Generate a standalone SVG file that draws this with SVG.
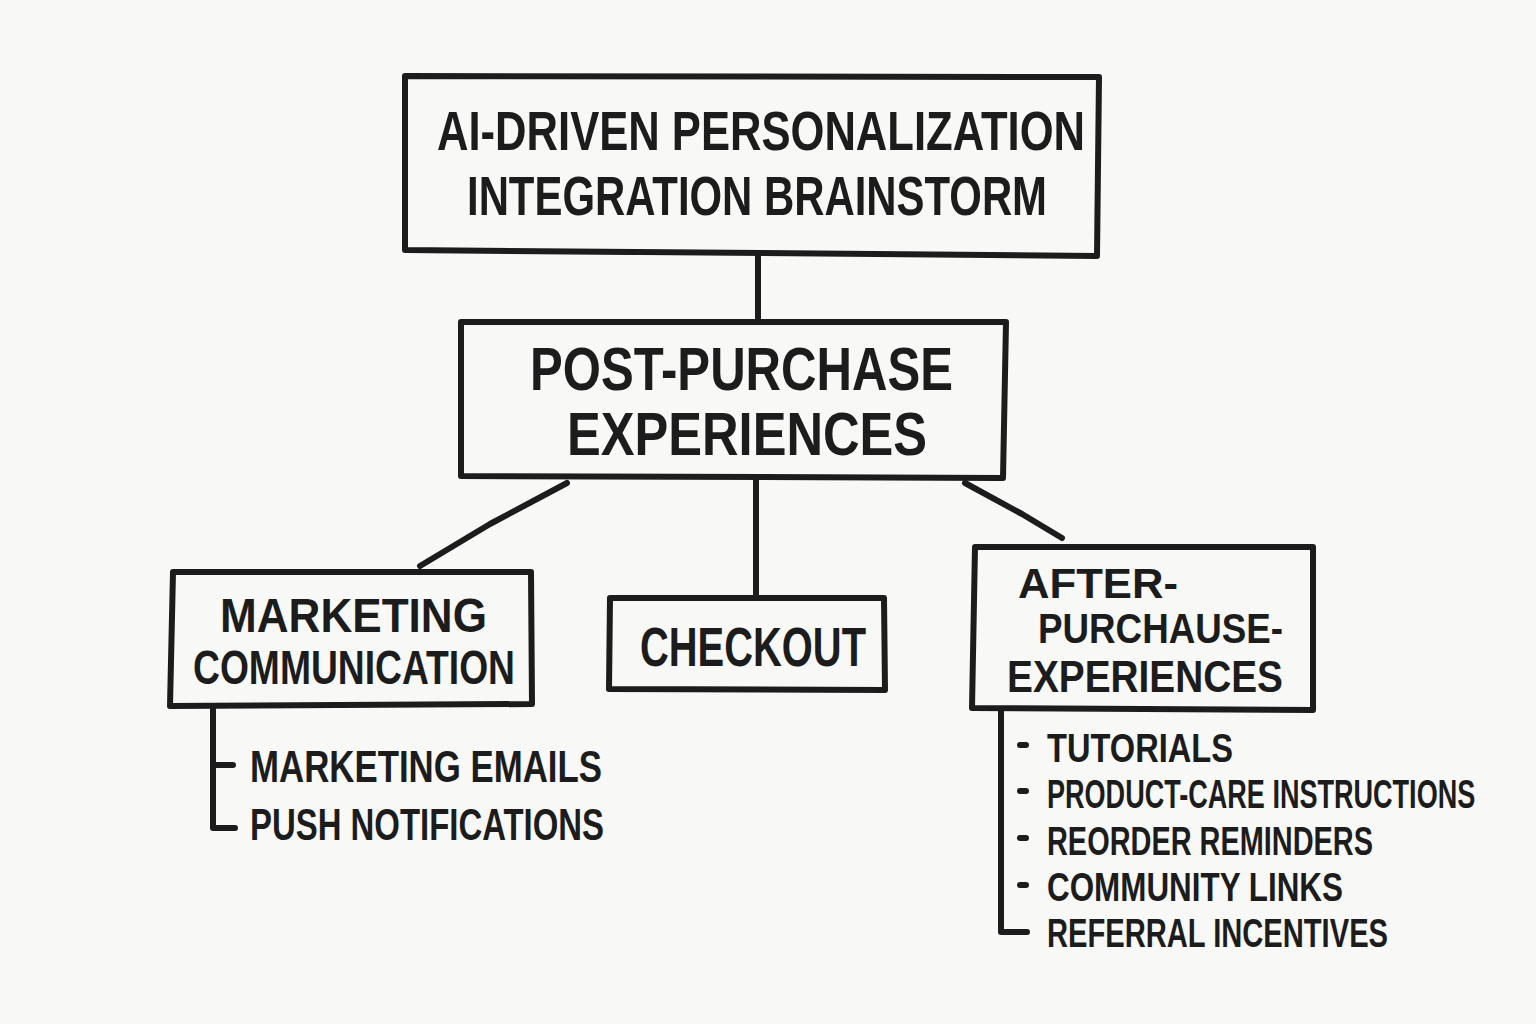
<svg xmlns="http://www.w3.org/2000/svg" width="1536" height="1024" viewBox="0 0 1536 1024">
<style>
.bg{fill:#f8f8f6}
.box{fill:none;stroke:#1c1c1c;stroke-width:6;stroke-linejoin:round;stroke-linecap:round}
.ln{fill:none;stroke:#1c1c1c;stroke-width:6;stroke-linecap:round;stroke-linejoin:round}
text{font-family:"Liberation Sans","DejaVu Sans",sans-serif;font-weight:bold;fill:#1c1c1c}
.dot{fill:#1c1c1c}
</style>
<rect class="bg" x="0" y="0" width="1536" height="1024"/>
<g id="connectors">
<path class="ln" d="M758,256 L758,318"/>
<path class="ln" d="M567,483 L490,524 L420,566"/>
<path class="ln" d="M756,480 L756,596"/>
<path class="ln" d="M965,483 L1022,514 L1062,538"/>
<path class="ln" d="M213,706 L213,828 L235,828 M213,765 L233,765"/>
<path class="ln" d="M1001,710 L1001,932 L1027,932"/>
</g>
<g id="root">
<path class="box" d="M405,76 L1099,77 L1097,256 L405,250 Z"/>
<text x="437" y="150" font-size="56" textLength="648" lengthAdjust="spacingAndGlyphs">AI-DRIVEN PERSONALIZATION</text>
<text x="467" y="215" font-size="56" textLength="580" lengthAdjust="spacingAndGlyphs">INTEGRATION BRAINSTORM</text>
</g>
<g id="post-purchase">
<path class="box" d="M461,322 L1006,322 L1003,478 L461,476 Z"/>
<text x="530" y="390" font-size="62" textLength="423" lengthAdjust="spacingAndGlyphs">POST-PURCHASE</text>
<text x="567" y="455" font-size="62" textLength="360" lengthAdjust="spacingAndGlyphs">EXPERIENCES</text>
</g>
<g id="marketing">
<path class="box" d="M173,572 L531,572 L532,704 L170,706 Z"/>
<text x="220" y="632" font-size="49" textLength="267" lengthAdjust="spacingAndGlyphs">MARKETING</text>
<text x="193" y="684" font-size="49" textLength="322" lengthAdjust="spacingAndGlyphs">COMMUNICATION</text>
<text x="250" y="782" font-size="44" textLength="352" lengthAdjust="spacingAndGlyphs">MARKETING EMAILS</text>
<text x="250" y="840" font-size="44" textLength="354" lengthAdjust="spacingAndGlyphs">PUSH NOTIFICATIONS</text>
</g>
<g id="checkout">
<path class="box" d="M610,598 L884,598 L885,690 L609,689 Z"/>
<text x="640" y="666" font-size="56" textLength="226" lengthAdjust="spacingAndGlyphs">CHECKOUT</text>
</g>
<g id="after-purchase">
<path class="box" d="M975,547 L1313,547 L1313,710 L972,708 Z"/>
<text x="1018" y="598" font-size="42" textLength="160" lengthAdjust="spacingAndGlyphs">AFTER-</text>
<text x="1038" y="643" font-size="42" textLength="245" lengthAdjust="spacingAndGlyphs">PURCHAUSE-</text>
<text x="1007" y="692" font-size="44" textLength="276" lengthAdjust="spacingAndGlyphs">EXPERIENCES</text>
<rect class="dot" x="1017" y="742" width="12" height="6" rx="3"/>
<rect class="dot" x="1017" y="788" width="12" height="6" rx="3"/>
<rect class="dot" x="1017" y="835" width="12" height="6" rx="3"/>
<rect class="dot" x="1017" y="882" width="12" height="6" rx="3"/>
<text x="1047" y="762" font-size="41" textLength="186" lengthAdjust="spacingAndGlyphs">TUTORIALS</text>
<text transform="translate(1047,808) scale(0.66,1)" x="0" y="0" font-size="41">PRODUCT-CARE INSTRUCTIONS</text>
<text x="1047" y="855" font-size="41" textLength="326" lengthAdjust="spacingAndGlyphs">REORDER REMINDERS</text>
<text x="1047" y="901" font-size="41" textLength="296" lengthAdjust="spacingAndGlyphs">COMMUNITY LINKS</text>
<text x="1047" y="947" font-size="41" textLength="341" lengthAdjust="spacingAndGlyphs">REFERRAL INCENTIVES</text>
</g>
</svg>
